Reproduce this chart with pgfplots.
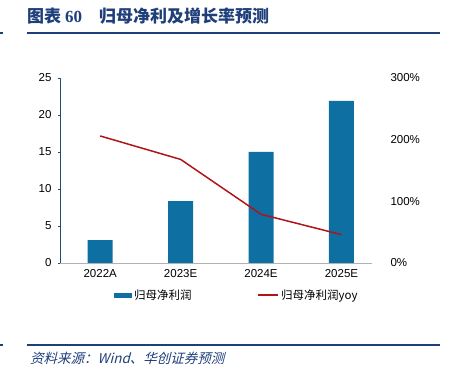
\documentclass[border=0pt]{standalone}
\usepackage{pgfplots}
\pgfplotsset{compat=1.18}
\usepackage{fontspec}
\setmainfont{Liberation Sans}
\newfontfamily\cjk{Noto Sans CJK SC}
\newfontfamily\cjkslant[FakeSlant=0.25]{Noto Sans CJK SC}
\newfontfamily\serifb{Liberation Serif}
\definecolor{barblue}{HTML}{0E6FA3}
\definecolor{linered}{HTML}{B0141A}
\definecolor{navy}{HTML}{1F3F7A}
\definecolor{axnavy}{HTML}{1F4E79}
\begin{document}
\begin{tikzpicture}[x=1pt,y=1pt]
\path[use as bounding box] (0,0) rectangle (450,367);
% title
\node[anchor=west, inner sep=0pt, text=navy] at (27,351) {\cjk\bfseries\fontsize{17}{19}\selectfont 图表\ {\serifb\bfseries 60}\hspace{17pt}归母净利及增长率预测};
\draw[navy, line width=1.5pt] (27,334) -- (440,334);
\draw[navy, line width=1.5pt] (0,334) -- (3,334);
% footer
\draw[navy, line width=1.5pt] (27,22) -- (440,22);
\draw[navy, line width=1.5pt] (0,22) -- (3,22);
\node[anchor=west, inner sep=0pt, text=navy] at (30,9) {\cjkslant\fontsize{13.5}{15}\selectfont 资料来源：Wind、华创证券预测};

\begin{axis}[
  at={(60pt,104pt)}, anchor=south west, scale only axis,
  width=312pt, height=185pt,
  xmin=-0.5, xmax=3.38, ymin=0, ymax=25,
  ytick={0,5,10,15,20,25},
  xtick={0,1,2,3}, xticklabels={2022A,2023E,2024E,2025E},
  axis y line*=left, axis x line*=bottom,
  x axis line style={draw=gray!60, line width=0.6pt},
  y axis line style={draw=axnavy, line width=0.6pt},
  xtick style={draw=none},
  ytick style={draw=axnavy},
  tick align=outside, major tick length=2pt,
  tick label style={font=\fontsize{11.5}{13}\selectfont},
  /pgf/number format/assume math mode=true,
  yticklabel style={xshift=-3pt},
  xticklabel style={yshift=-1pt},
  legend style={at={(0.567,-0.173)}, anchor=center, draw=none, fill=none,
    font=\cjk\fontsize{11.5}{13}\selectfont, legend columns=2,
    /tikz/every even column/.append style={column sep=64pt},
    inner sep=0pt},
  legend cell align=left,
]
\addplot[ybar, bar width=25pt, fill=barblue, draw=none,
  legend image code/.code={\fill[barblue] (0pt,-2.5pt) rectangle (18pt,2.5pt);}]
  coordinates {(0,3.1) (1,8.35) (2,15.0) (3,21.9)};
\addlegendentry{归母净利润}
\addlegendimage{linered, line width=1.5pt,
  legend image code/.code={\draw[linered, line width=1.5pt] (0pt,0pt) -- (20pt,0pt);}}
\addlegendentry{归母净利润yoy}
\end{axis}

\begin{axis}[
  at={(60pt,104pt)}, anchor=south west, scale only axis,
  width=312pt, height=185pt,
  xmin=-0.5, xmax=3.38, ymin=0, ymax=300,
  ytick={0,100,200,300},
  yticklabel={\pgfmathprintnumber{\tick}\%},
  axis y line*=right, axis x line=none,
  y axis line style={draw=none},
  ytick style={draw=none},
  tick label style={font=\fontsize{11.5}{13}\selectfont},
  /pgf/number format/assume math mode=true,
  yticklabel style={xshift=15pt},
]
\addplot[linered, line width=1.5pt] coordinates {(0,206) (1,168) (2,79) (3,46)};
\end{axis}
\end{tikzpicture}
\end{document}
